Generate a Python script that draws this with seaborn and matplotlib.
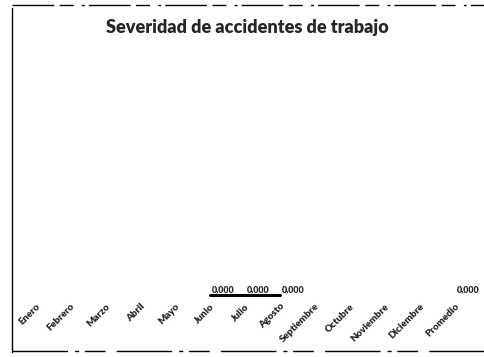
import numpy as np
import pandas as pd
import matplotlib
matplotlib.use("Agg")
import matplotlib.pyplot as plt
from matplotlib.lines import Line2D
import seaborn as sns

meses = ["Enero", "Febrero", "Marzo", "Abril", "Mayo", "Junio", "Julio",
         "Agosto", "Septiembre", "Octubre", "Noviembre", "Diciembre", "Promedio"]
severidad = [np.nan, np.nan, np.nan, np.nan, np.nan, 0.0, 0.0,
             0.0, np.nan, np.nan, np.nan, np.nan, 0.0]
titulo = "Severidad de accidentes de trabajo"

sns.set_theme(style="white")
plt.rcParams["font.family"] = ["Lato", "DejaVu Sans"]

W, H = 485, 357
fig = plt.figure(figsize=(W / 100, H / 100), dpi=100)
fig.patch.set_facecolor("white")

# plot area in pixel coordinates (top-down)
x0, x1 = 18, 472
y_top, y_bot = 50, 295
ax = fig.add_axes([x0 / W, 1 - y_bot / H, (x1 - x0) / W, (y_bot - y_top) / H])

df = pd.DataFrame({"mes": meses, "pos": np.arange(len(meses)), "valor": severidad})
# contiguous runs of values are drawn as separate line pieces (gaps at missing months)
df["tramo"] = df["valor"].isna().cumsum()
datos = df.dropna(subset=["valor"])
sns.lineplot(data=datos, x="pos", y="valor", units="tramo", estimator=None,
             ax=ax, color="black", linewidth=2.2, clip_on=False)

ax.set_xlim(-0.5, len(meses) - 0.5)
ax.set_ylim(0, 1)
ax.set_xticks(df["pos"])
ax.set_xticklabels(meses, rotation=45, ha="right", rotation_mode="anchor",
                   fontsize=7, fontweight="heavy")
ax.tick_params(axis="x", length=0, pad=5)
ax.set_yticks([])
ax.set_xlabel("")
ax.set_ylabel("")
for s in ax.spines.values():
    s.set_visible(False)

# value labels to the right of each point
for p, v in zip(df["pos"], df["valor"]):
    if not np.isnan(v):
        ax.annotate(f"{v:.3f}".replace(".", ","), (p, v), xytext=(1.5, 0.5),
                    textcoords="offset points", ha="left", va="bottom",
                    fontsize=6.5, fontweight="heavy", annotation_clip=False)

fig.text(247 / W, 1 - 28 / H, titulo, ha="center", va="center",
         fontsize=13, fontweight="heavy")

# chart frame
def fline(xs, ys, **kw):
    fig.add_artist(Line2D([x / W for x in xs], [1 - y / H for y in ys],
                          transform=fig.transFigure, color="black", **kw))

fline([12, 12], [8, 352], linewidth=1.0)
fline([12, 485], [5, 5], linewidth=1.0, linestyle=(0, (30, 4, 10, 6, 2, 3)))
fline([12, 485], [351, 351], linewidth=1.0, linestyle=(0, (40, 5, 3, 4, 15, 8)))

fig.savefig("out.png", dpi=100)
